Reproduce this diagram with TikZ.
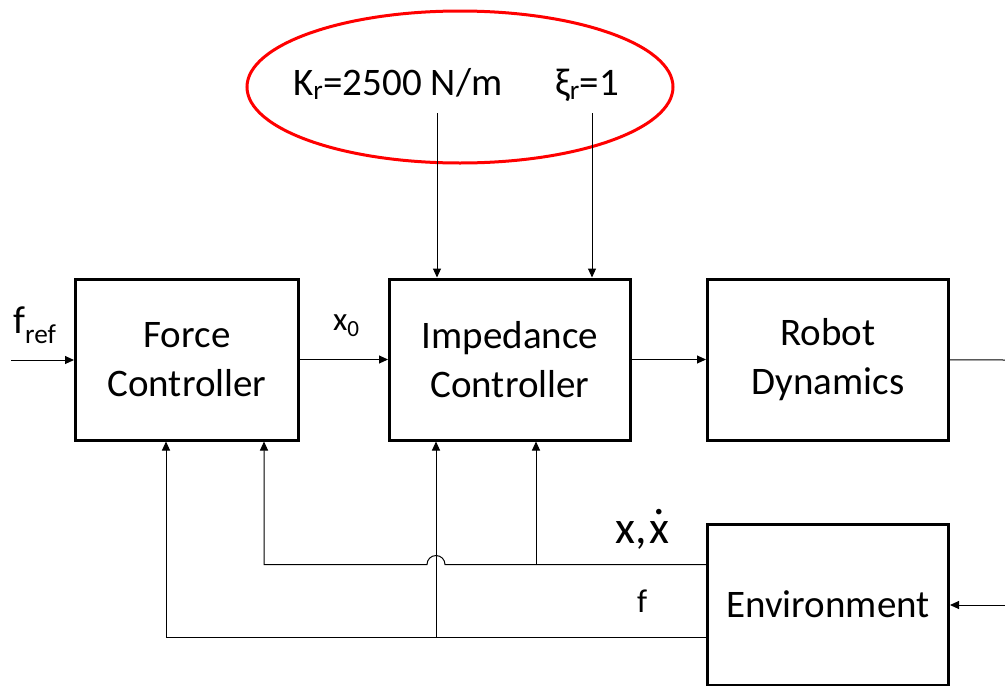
\documentclass[tikz,border=0pt]{standalone}
\usepackage{fontspec}
\setmainfont{Carlito}
\usetikzlibrary{positioning,arrows.meta,calc,shapes.geometric}
\newcommand{\xdot}{\leavevmode\setbox0\hbox{x}\rlap{\hbox to\wd0{\hss\raisebox{.62em}{.}\hss}}x}

\begin{document}
\begin{tikzpicture}[x=1pt, y=-1pt, node distance=88pt,
  blk/.style={draw, line width=3pt, align=center, minimum width=241pt, minimum height=161pt,
              font=\fontsize{39}{49}\selectfont},
  arr/.style={-{Triangle[length=9pt, width=8pt]}, line width=1pt},
  lab/.style={inner sep=0pt, anchor=base west, font=\fontsize{39}{49}\selectfont}]
\useasboundingbox (0,0) rectangle (1005,686);

% parameters of the impedance controller
\node[draw=red, line width=3pt, ellipse, minimum width=426pt, minimum height=152pt] (par) at (460,87) {};
\node[lab] (kr) at (293,95) {K\textsubscript{r}=2500 N/m};
\node[lab] (xi) at (555,95) {ξ\textsubscript{r}=1};
\coordinate (kin) at (437,113);
\coordinate (xin) at (592,113);

% forward path
\node[blk, minimum width=223pt] (fc) at (187,359.5) {Force\\Controller};
\node[blk, right=88pt of fc] (ic) {Impedance\\Controller};
\node[blk, right=74pt of ic] (rd) {Robot\\Dynamics};
\node[blk, below=81pt of rd] (env) {Environment};

\coordinate (in) at (11,360);
\coordinate (out) at (1005,360);
\coordinate (ein) at (1005,605);

% feedback taps
\coordinate (fcA) at ($(fc.south west)+(92,0)$);
\coordinate (fcB) at ($(fc.south west)+(190,0)$);
\coordinate (icA) at ($(ic.south west)+(48,0)$);
\coordinate (icB) at ($(ic.south west)+(148,0)$);
\coordinate (xe) at ($(env.north west)+(0,42)$);
\coordinate (fe) at ($(env.north west)+(0,115)$);

% labels
\node[lab] (fref) at (13,333) {f\textsubscript{ref}};
\node[lab, font=\fontsize{33}{40}\selectfont] (x0) at (333,330) {x\textsubscript{0}};
\node[lab, font=\fontsize{46}{54}\selectfont] (xl) at (615,543) {x,\kern3pt\xdot};
\node[lab, font=\fontsize{33}{40}\selectfont] (fl) at (637,612) {f};

% arrows
\draw[arr] (in) -- (in -| fc.west);
\draw[arr] (fc) -- (ic);
\draw[arr] (ic) -- (rd);
\draw[line width=1pt] (rd) -- (out);
\draw[arr] (ein) -- (ein -| env.east);
\draw[arr] (kin) -- (kin |- ic.north);
\draw[arr] (xin) -- (xin |- ic.north);
\draw[arr] (xe) -- ($(xe -| icA)+(9,0)$) arc[start angle=0, end angle=180, radius=9pt]
  -- (xe -| fcB) -- (fcB);
\draw[arr] (xe -| icB) -- (icB);
\draw[arr] (fe) -| (fcA);
\draw[arr] (fe -| icA) -- (icA);
\end{tikzpicture}
\end{document}
